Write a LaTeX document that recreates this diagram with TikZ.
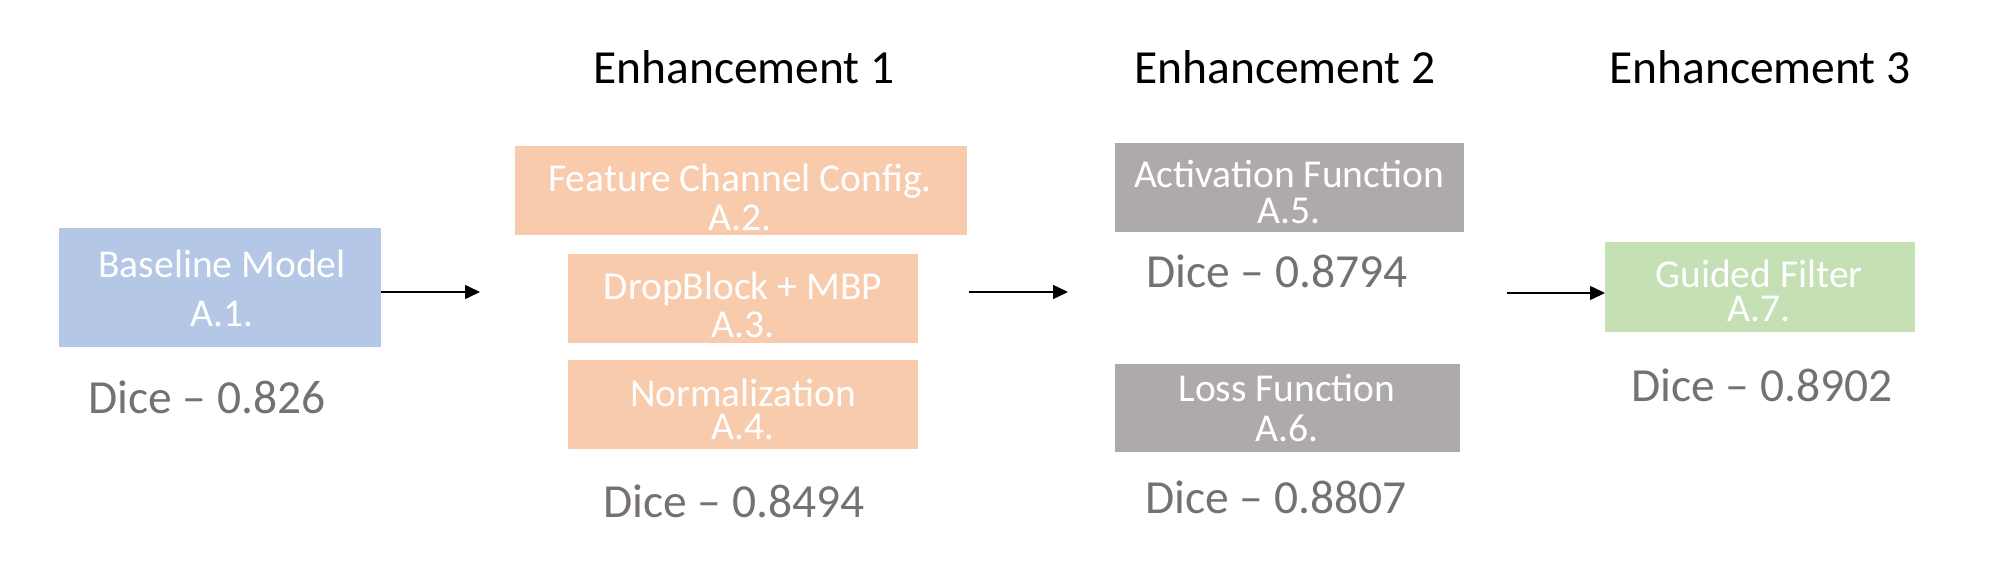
\documentclass[tikz,border=0pt]{standalone}
\usepackage{fontspec}
\setmainfont{Carlito}
\usetikzlibrary{arrows.meta}
\definecolor{cblue}{HTML}{B4C7E7}
\definecolor{corange}{HTML}{F8CBAD}
\definecolor{cgray}{HTML}{AEAAAA}
\definecolor{cgreen}{HTML}{C5E0B4}
\definecolor{cdice}{HTML}{767171}
\tikzset{
  boxshape/.style={rectangle, draw=none, inner sep=0pt, outer sep=0pt},
  boxtext/.style={text=white, align=center, inner sep=0pt, anchor=south},
  dicetext/.style={text=cdice, inner sep=0pt, anchor=base west, font=\fontsize{47.5}{56}\selectfont},
  headtext/.style={text=black, inner sep=0pt, anchor=base, font=\fontsize{47.5}{56}\selectfont},
  flowarrow/.style={line width=1.5pt, -{Triangle[length=15pt, width=14pt]}}
}
\begin{document}
\begin{tikzpicture}[x=1pt, y=-1pt]
\useasboundingbox (0,0) rectangle (2015,579);
% headers
\node[headtext] (h1) at (744,83) {Enhancement 1};
\node[headtext] (h2) at (1285,83) {Enhancement 2};
\node[headtext] (h3) at (1760,83) {Enhancement 3};
% boxes
\node[boxshape, fill=cblue, minimum width=322pt, minimum height=119pt] (a1) at (220,287.5) {};
\node[boxshape, fill=corange, minimum width=452pt, minimum height=89pt] (a2) at (741,190.5) {};
\node[boxshape, fill=corange, minimum width=350pt, minimum height=89pt] (a3) at (743,298.5) {};
\node[boxshape, fill=corange, minimum width=350pt, minimum height=89pt] (a4) at (743,404.5) {};
\node[boxshape, fill=cgray, minimum width=349pt, minimum height=89pt] (a5) at (1289.5,187.5) {};
\node[boxshape, fill=cgray, minimum width=345pt, minimum height=88pt] (a6) at (1287.5,408) {};
\node[boxshape, fill=cgreen, minimum width=310pt, minimum height=90pt] (a7) at (1760,287) {};
% box texts
\node[boxtext, font=\fontsize{39.5}{49}\selectfont] (t1) at (222,327) {Baseline Model\\A.1.};
\node[boxtext, font=\fontsize{39.5}{39}\selectfont] (t2) at (740,231) {Feature Channel Config.\\A.2.};
\node[boxtext, font=\fontsize{39.5}{38}\selectfont] (t3) at (743,338) {DropBlock + MBP\\A.3.};
\node[boxtext, font=\fontsize{39.5}{33}\selectfont] (t4) at (743,440) {Normalization\\A.4.};
\node[boxtext, font=\fontsize{39.5}{36}\selectfont] (t5) at (1289,224) {Activation Function\\A.5.};
\node[boxtext, font=\fontsize{39.5}{40}\selectfont] (t6) at (1287,442) {Loss Function\\A.6.};
\node[boxtext, font=\fontsize{39.5}{34}\selectfont] (t7) at (1759,322) {Guided Filter\\A.7.};
% dice scores
\node[dicetext] (d1) at (88,413) {Dice – 0.826};
\node[dicetext] (d2) at (603,517) {Dice – 0.8494};
\node[dicetext] (d3) at (1146,287) {Dice – 0.8794};
\node[dicetext] (d4) at (1145,513) {Dice – 0.8807};
\node[dicetext] (d5) at (1631,401) {Dice – 0.8902};
% arrows
\coordinate (p1s) at (381,292);
\coordinate (p1e) at (480,292);
\coordinate (p2s) at (969,292);
\coordinate (p2e) at (1068,292);
\coordinate (p3s) at (1507,293);
\coordinate (p3e) at (1605,293);
\draw[flowarrow] (p1s) -- (p1e);
\draw[flowarrow] (p2s) -- (p2e);
\draw[flowarrow] (p3s) -- (p3e);
\end{tikzpicture}
\end{document}
